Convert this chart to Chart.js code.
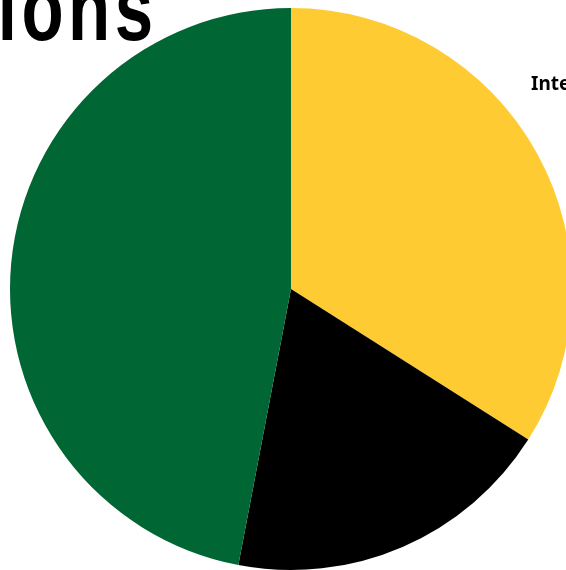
<!DOCTYPE html>
<html>
<head>
<meta charset="utf-8">
<script src="https://cdn.jsdelivr.net/npm/chart.js@4"></script>
<style>
    html, body { margin: 0; padding: 0; background: #ffffff; overflow: hidden; }
    #wrap { width: 566px; height: 570px; overflow: hidden; position: relative; }
    canvas { position: absolute; left: 0; top: 0; }
</style>
</head>
<body>
<div id="wrap">
    <canvas id="pieChart" width="600" height="600"></canvas>
</div>
<script>
    // chart data
    const titleText = "ions";
    const sliceLabels = ["International", "Other", "Domestic"];
    const sliceValues = [34, 19, 47];
    const sliceColors = ["#ffcb33", "#000000", "#006633"];

    // draws the (cropped) title and the slice label text on top of the pie
    const textPlugin = {
        id: "textPlugin",
        afterDraw(chart) {
            const ctx = chart.ctx;
            ctx.save();
            ctx.fillStyle = "#000000";
            ctx.textBaseline = "alphabetic";
            ctx.textAlign = "left";

            // condensed headline: squeeze a bold sans horizontally
            ctx.save();
            ctx.scale(0.75, 1);
            ctx.font = "bold 92px 'Liberation Sans', Arial, sans-serif";
            ctx.letterSpacing = "6px";
            ctx.fillText(titleText, -3, 40);
            ctx.restore();

            ctx.font = "bold 19px 'Noto Sans', 'DejaVu Sans', sans-serif";
            ctx.fillText(sliceLabels[0], 531, 90);
            ctx.restore();
        }
    };

    const ctx = document.getElementById("pieChart").getContext("2d");
    const pieChart = new Chart(ctx, {
        type: "pie",
        data: {
            labels: sliceLabels,
            datasets: [
                {
                    data: sliceValues,
                    backgroundColor: sliceColors,
                    borderWidth: 0,
                },
            ],
        },
        options: {
            responsive: false,
            animation: false,
            devicePixelRatio: 1,
            layout: {
                padding: { left: 10, top: 8, right: 28, bottom: 30 },
            },
            plugins: {
                legend: { display: false },
                tooltip: { enabled: false },
            },
        },
        plugins: [textPlugin],
    });
</script>
</body>
</html>
